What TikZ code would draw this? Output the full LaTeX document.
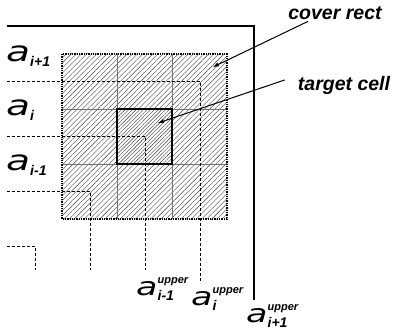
\documentclass[tikz,border=0pt]{standalone}
\usepackage{fontspec}
\setmainfont{Liberation Sans}
\newfontfamily\afont{DejaVu Sans}
\usetikzlibrary{patterns.meta}

% label fonts
\newcommand{\tagfont}{\fontsize{19.5}{20}\selectfont\bfseries\itshape}
\newcommand{\subfont}{\fontsize{14}{14}\selectfont\bfseries\itshape}
\newcommand{\supfont}{\fontsize{11}{11}\selectfont\bfseries\itshape}

% a with subscript and superscript
\newcommand{\alab}[3]{%
	\scalebox{1.4}[1]{\afont\itshape\fontsize{#1}{#1}\selectfont a}%
	\rlap{\raisebox{12pt}{\supfont #3}}%
	\raisebox{-5pt}{\subfont #2}}

\begin{document}
\begin{tikzpicture}[
			x=1pt, y=-1pt,
			hatch/.style={
				pattern={Lines[angle=45,distance=3.6pt,line width=0.4pt]},
				pattern color=black!75
			},
			densehatch/.style={
				pattern={Lines[angle=45,distance=2.6pt,line width=0.4pt]},
				pattern color=black!80
			},
			gridline/.style={draw=black!55, line width=0.8pt},
			level/.style={dash pattern=on 3pt off 2pt, line width=0.8pt},
			coverbox/.style={densely dotted, line width=1.3pt},
			targetbox/.style={line width=1.4pt},
			pointer/.style={->, >=latex, line width=1pt},
			tag/.style={font=\tagfont, inner sep=1pt},
			alabel/.style={inner sep=0pt, anchor=base west}
			]
			\useasboundingbox (0,0) rectangle (395,334);

			% Hatched cover rect and target cell
			\fill[hatch] (62,54) rectangle (227,219);
			\fill[white] (117,109) rectangle (172,164);
			\fill[densehatch] (117,109) rectangle (172,164);

			% Grid
			\foreach \k in {1,2} {
				\draw[gridline] (62+55*\k,54) -- (62+55*\k,219);
				\draw[gridline] (62,54+55*\k) -- (227,54+55*\k);
			}

			% Boundary of the space
			\draw[line width=1.2pt] (7,26) -- (254,26) -- (254,300);

			% Dashed levels
			\draw[level] (7,81) -- (200,81) -- (200,283);
			\foreach \k in {1,2,3}
			\draw[level] (7,81+55*\k) -- (200-55*\k,81+55*\k) -- (200-55*\k,270);

			% Boxes
			\draw[coverbox] (62,54) rectangle (227,219);
			\draw[targetbox] (117,109) rectangle (172,164);

			% Left labels
			\node[alabel] (a2) at (6,62) {\alab{28}{i+1}{}};
			\node[alabel] (a1) at (6,115) {\alab{28}{i}{}};
			\node[alabel] (a0) at (6,170) {\alab{28}{i-1}{}};

			% Bottom labels
			\node[alabel] (u0) at (136,295) {\alab{25}{i-1}{upper}};
			\node[alabel] (u1) at (191,305) {\alab{25}{i}{upper}};
			\node[alabel] (u2) at (246,322) {\alab{25}{i+1}{upper}};

			% Callouts
			\node[tag, anchor=base] (coverlbl) at (335,20) {cover rect};
			\node[tag, anchor=base] (targetlbl) at (344,91) {target cell};
			\coordinate (coverpt) at (213,67);
			\coordinate (targetpt) at (158,123);
			\draw[pointer] ([xshift=-27pt]coverlbl.south) -- (coverpt);
			\draw[pointer] ([xshift=-12pt,yshift=6pt]targetlbl.west) -- (targetpt);

		\end{tikzpicture}
\end{document}
